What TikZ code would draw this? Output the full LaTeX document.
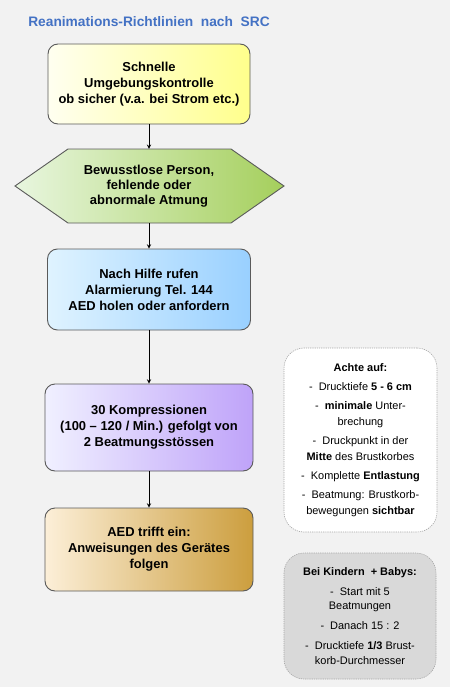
\documentclass[tikz,border=0pt]{standalone}
\usepackage{fontspec}
\setmainfont{Liberation Sans}
\definecolor{bggray}{HTML}{F2F2F2}
\definecolor{titleblue}{HTML}{4472C4}
\definecolor{boxline}{HTML}{5A5A5A}
\definecolor{noteline}{HTML}{A6A6A6}
\definecolor{yelA}{HTML}{FFFFF0}
\definecolor{yelB}{HTML}{FFFF8C}
\definecolor{grnA}{HTML}{E8F6DF}
\definecolor{grnB}{HTML}{A5CF5C}
\definecolor{bluA}{HTML}{DFF3FF}
\definecolor{bluB}{HTML}{99D0FF}
\definecolor{purA}{HTML}{F0F0FF}
\definecolor{purB}{HTML}{BFA3F9}
\definecolor{golA}{HTML}{FCEFD8}
\definecolor{golB}{HTML}{CC9E3E}
\definecolor{kidgray}{HTML}{D9D9D9}

\begin{document}
\begin{tikzpicture}[x=1bp,y=-1bp,
        arrow/.style = {line width=0.9bp,-stealth},
        flowbox/.style = {draw=boxline,line width=0.9bp,rounded corners=10bp,align=center,
                          font=\fontsize{13}{16}\selectfont\bfseries},
        notebox/.style = {draw=noteline,line width=0.6bp,dash pattern=on 1.2bp off 1bp,
                          rounded corners=20bp,align=center,minimum width=153bp}]
                    \fill[bggray] (0,0) rectangle (450,687);
                    \useasboundingbox (0,0) rectangle (450,687);

                    \node[anchor=base,text=titleblue,font=\fontsize{13.8}{16}\selectfont\bfseries] (title) at (149,27) {Reanimations-Richtlinien\ \ nach\ \ SRC};

                    \node[flowbox,left color=yelA,right color=yelB,minimum width=202bp,minimum height=80bp] (check) at (149,84) {Schnelle\\Umgebungskontrolle\\ob sicher (v.a. bei Strom etc.)};

                    \path[draw=boxline,line width=0.9bp,left color=grnA,right color=grnB] (15,186) -- (68,149) -- (231,149) -- (284,186) -- (231,223) -- (68,223) -- cycle;
                    \node[align=center,font=\fontsize{13}{15}\selectfont\bfseries,minimum width=269bp,minimum height=74bp] (person) at (149,186) {Bewusstlose Person,\\fehlende oder\\abnormale Atmung};

                    \node[flowbox,left color=bluA,right color=bluB,minimum width=203bp,minimum height=81bp] (help) at (149,289.5) {Nach Hilfe rufen\\Alarmierung Tel. 144\\AED holen oder anfordern};
                    \node[flowbox,left color=purA,right color=purB,minimum width=208bp,minimum height=87bp] (cpr) at (149,427.5) {30 Kompressionen\\(100 – 120 / Min.) gefolgt von\\2 Beatmungsstössen};
                    \node[flowbox,left color=golA,right color=golB,minimum width=208bp,minimum height=83bp] (aed) at (149,549.5) {AED trifft ein:\\Anweisungen des Gerätes\\folgen};

                    \draw[arrow] (check) -- (person);
                    \draw[arrow] (person) -- (help);
                    \draw[arrow] (help) -- (cpr);
                    \draw[arrow] (cpr) -- (aed);

                    \node[notebox,fill=white,minimum height=184bp,font=\fontsize{11}{16}\selectfont] (hints) at (360.5,440) {\textbf{Achte auf:}\\[3bp]
                        -\ \ Drucktiefe \textbf{5 - 6 cm}\\[3bp]
                        -\ \ \textbf{minimale} Unter-\\brechung\\[3bp]
                        -\ \ Druckpunkt in der\\\textbf{Mitte} des Brustkorbes\\[3bp]
                        -\ \ Komplette \textbf{Entlastung}\\[3bp]
                        -\ \ Beatmung: Brustkorb-\\bewegungen \textbf{sichtbar}};
                    \node[notebox,fill=kidgray,minimum width=152bp,minimum height=126bp,font=\fontsize{11}{15}\selectfont] (kids) at (360,616) {\textbf{Bei Kindern\ \ + Babys:}\\[5bp]
                        -\ \ Start mit 5\\Beatmungen\\[5bp]
                        -\ \ Danach 15 : 2\\[5bp]
                        -\ \ Drucktiefe \textbf{1/3} Brust-\\korb-Durchmesser};
                \end{tikzpicture}
\end{document}
